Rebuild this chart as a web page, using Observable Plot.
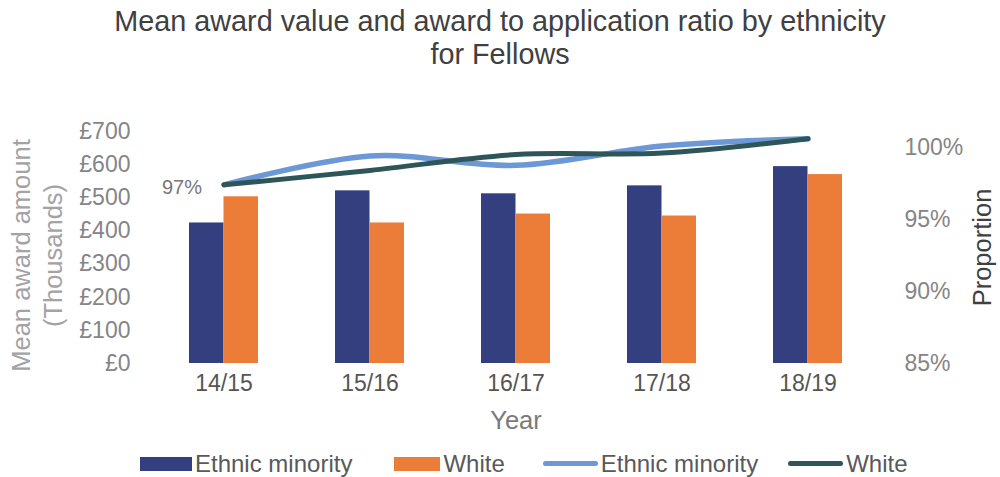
<!DOCTYPE html>
<html><head><meta charset="utf-8">
<script src="https://cdn.jsdelivr.net/npm/d3@7"></script>
<script src="https://cdn.jsdelivr.net/npm/@observablehq/plot@0.6"></script>
<style>
html,body{margin:0;padding:0;background:#fff;}
body{width:1000px;height:477px;overflow:hidden;font-family:"Liberation Sans",Arial,sans-serif;}
#title{height:75px;box-sizing:border-box;padding-top:5px;text-align:center;font-size:28.8px;line-height:33px;color:#404040;}
#chart svg{display:block;}
#legend{height:30px;box-sizing:border-box;padding-top:3px;padding-left:140px;display:flex;align-items:center;font-size:24px;color:#595959;}
.item{display:flex;align-items:center;margin-right:40px;}
.sw{display:inline-block;margin-right:3px;}
</style></head><body>
<div id="title">Mean award value and award to application ratio by ethnicity<br>for Fellows</div>
<div id="chart"></div>
<div id="legend"></div>
<script>
const years = ["14/15", "15/16", "16/17", "17/18", "18/19"];
const seriesNames = ["Ethnic minority", "White"];
const awardEthnicMinority = [424, 521, 512, 536, 594];
const awardWhite = [503, 424, 451, 445, 570];
const ratioEthnicMinority = [0.974, 0.994, 0.9875, 1.001, 1.006];
const ratioWhite = [0.974, 0.984, 0.995, 0.996, 1.006];
const leftTicks = [0, 100, 200, 300, 400, 500, 600, 700];
const rightTicks = [0.85, 0.90, 0.95, 1.00];
const leftDomain = [0, 700];
const rightDomain = [0.85, 1.011];

const barColors = ["#333f7f", "#ec7d38"];
const lineColors = ["#6c98d6", "#2e5558"];

const toLeft = p => (p - rightDomain[0]) / (rightDomain[1] - rightDomain[0]) * (leftDomain[1] - leftDomain[0]) + leftDomain[0];
const fromLeft = v => (v - leftDomain[0]) / (leftDomain[1] - leftDomain[0]) * (rightDomain[1] - rightDomain[0]) + rightDomain[0];

const barsEM = years.map((y, i) => ({year: y, value: awardEthnicMinority[i]}));
const barsW = years.map((y, i) => ({year: y, value: awardWhite[i]}));
const lineEM = years.map((y, i) => ({year: y, value: ratioEthnicMinority[i]}));
const lineW = years.map((y, i) => ({year: y, value: ratioWhite[i]}));
const pct = d3.format(".0%");
const font = "Liberation Sans, Arial, sans-serif";

const chart = Plot.plot({
  width: 1000,
  height: 372,
  marginLeft: 150,
  marginRight: 119,
  marginTop: 56,
  marginBottom: 84,
  style: {fontFamily: font, background: "#fff"},
  x: {type: "band", domain: years, paddingInner: 0.528, paddingOuter: 0.264},
  y: {domain: leftDomain},
  marks: [
    Plot.axisY(leftTicks, {anchor: "left", tickSize: 0, tickPadding: 20, tickFormat: d => "£" + d, fontSize: 23, fill: "#858585", label: null}),
    Plot.axisY(rightTicks.map(toLeft), {anchor: "right", tickSize: 0, tickPadding: 23, tickFormat: d => pct(fromLeft(d)), fontSize: 23, fill: "#858585", label: null}),
    Plot.axisX({tickSize: 0, tickPadding: 11, fontSize: 23, fill: "#555555", label: null}),
    Plot.barY(barsEM, {x: "year", y: "value", fill: barColors[0], insetRight: 34.5}),
    Plot.barY(barsW, {x: "year", y: "value", fill: barColors[1], insetLeft: 34.5}),
    Plot.line(lineEM, {x: "year", y: d => toLeft(d.value), stroke: lineColors[0], strokeWidth: 5.5, curve: "catmull-rom", strokeLinecap: "round"}),
    Plot.line(lineW, {x: "year", y: d => toLeft(d.value), stroke: lineColors[1], strokeWidth: 5, curve: "catmull-rom", strokeLinecap: "round"}),
    Plot.text(lineW.slice(0, 1), {x: "year", y: d => toLeft(d.value), text: d => pct(d.value), textAnchor: "end", dx: -22, dy: 3, fontSize: 20, fill: "#777777"}),
    Plot.text(["Mean award amount\n(Thousands)"], {frameAnchor: "left", textAnchor: "middle", lineAnchor: "middle", rotate: -90, dx: -115, dy: 8, lineHeight: 1.25, fontSize: 25.5, fill: "#a3a3a3"}),
    Plot.text(["Proportion"], {frameAnchor: "right", textAnchor: "middle", lineAnchor: "middle", rotate: -90, dx: 101, fontSize: 25.5, fill: "#404040"}),
    Plot.text(["Year"], {frameAnchor: "bottom", dy: 65, fontSize: 25.5, fill: "#7a7a7a"})
  ]
});
document.getElementById("chart").appendChild(chart);

const legend = document.getElementById("legend");
const items = [
  {label: seriesNames[0], color: barColors[0], w: 52, h: 14, gap: 42},
  {label: seriesNames[1], color: barColors[1], w: 46, h: 14, gap: 38},
  {label: seriesNames[0], color: lineColors[0], w: 55, h: 5, gap: 30},
  {label: seriesNames[1], color: lineColors[1], w: 55, h: 5, gap: 0}
];
for (const it of items) {
  const d = document.createElement("div");
  d.className = "item";
  d.style.marginRight = it.gap + "px";
  const s = document.createElement("span");
  s.className = "sw";
  s.style.width = it.w + "px";
  s.style.height = it.h + "px";
  s.style.background = it.color;
  if (it.h < 10) s.style.borderRadius = "3px";
  const t = document.createElement("span");
  t.textContent = it.label;
  d.appendChild(s); d.appendChild(t);
  legend.appendChild(d);
}
</script>
</body></html>
